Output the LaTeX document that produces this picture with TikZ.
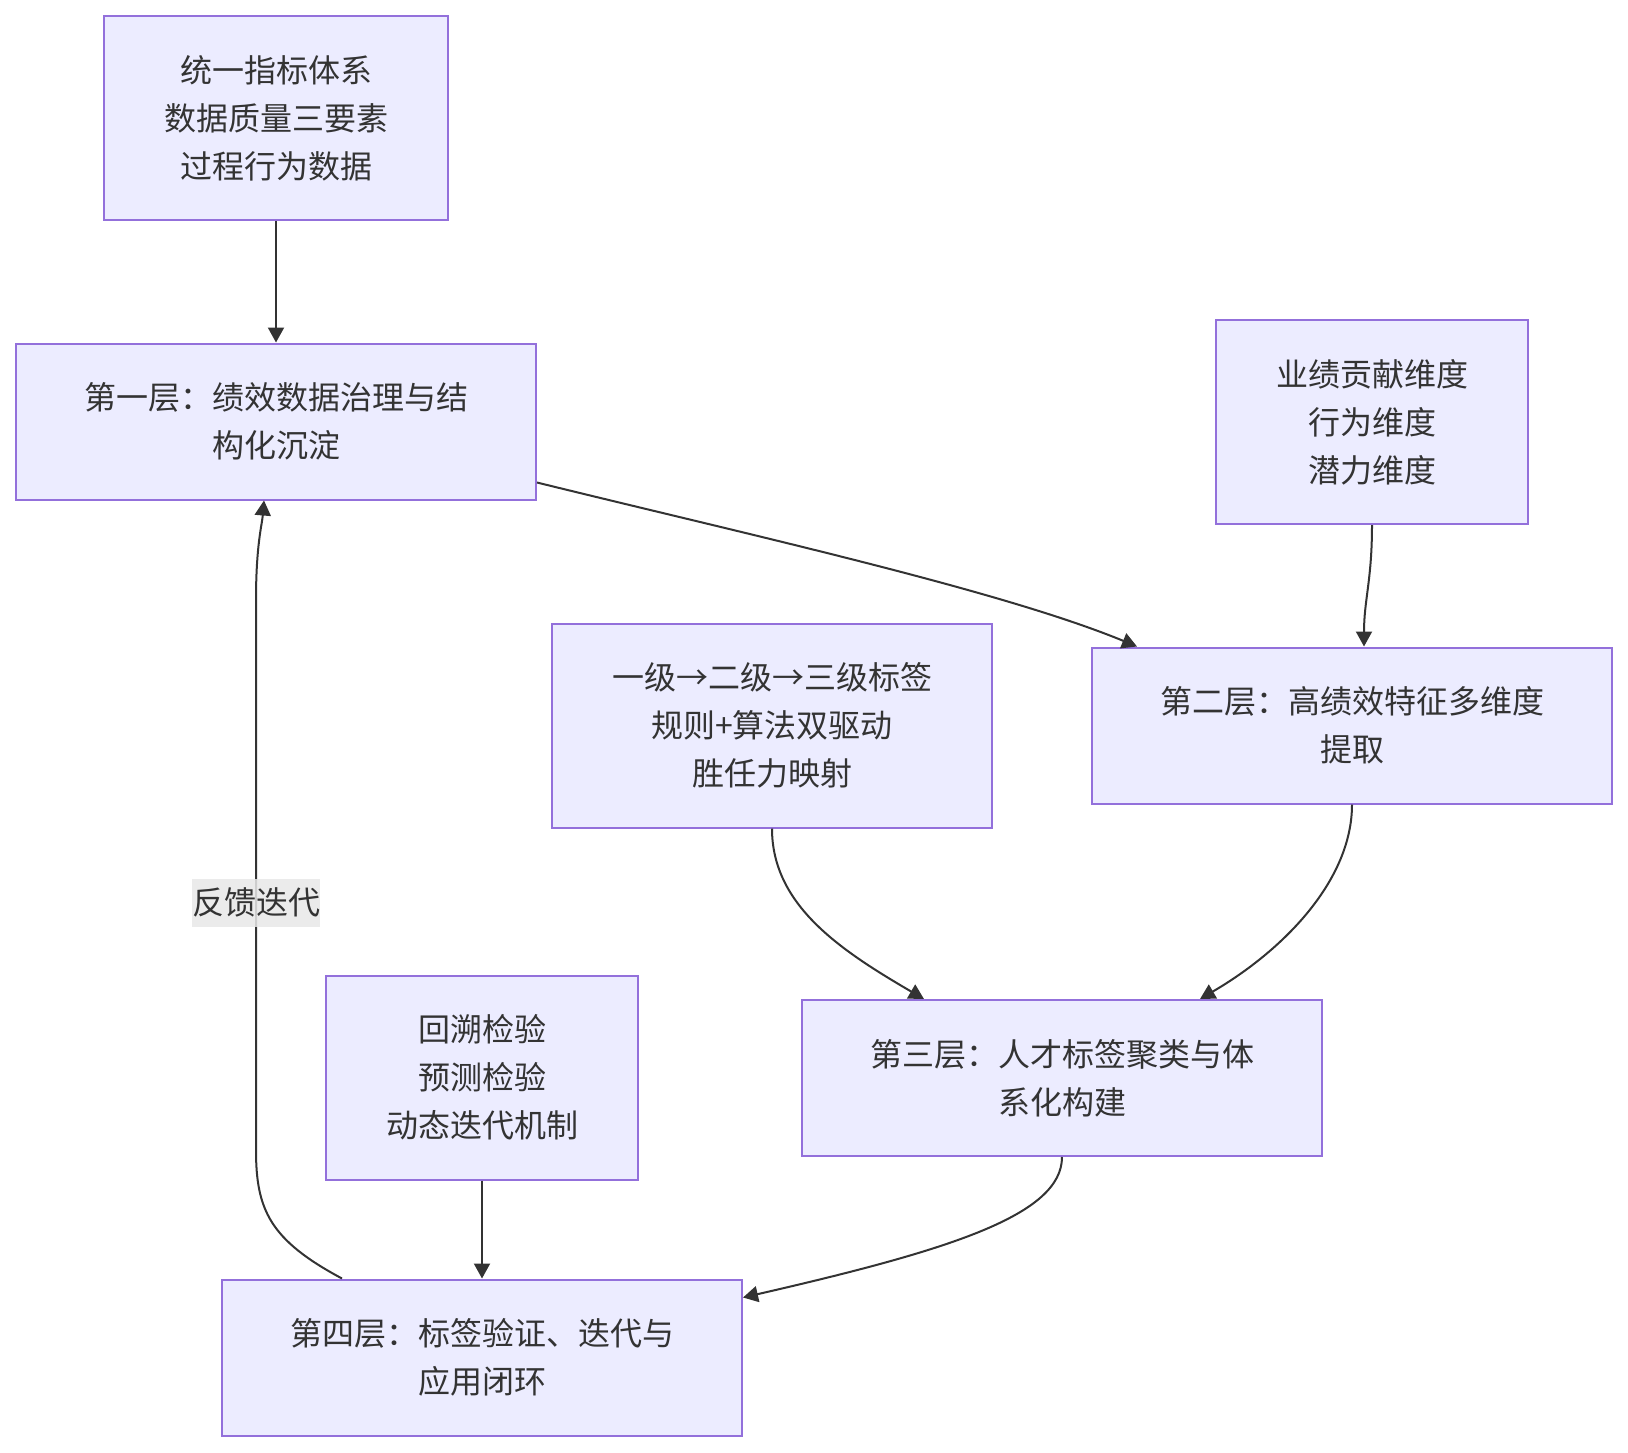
\documentclass[tikz,border=0pt]{standalone}
\usepackage{fontspec}
\setmainfont{Noto Sans CJK SC}
\usepackage{xcolor}
\usepackage{tikz}
\usetikzlibrary{arrows.meta, positioning, calc}

\definecolor{boxfill}{HTML}{ECECFF}
\definecolor{boxline}{HTML}{9370DB}
\definecolor{linkc}{HTML}{333333}
\definecolor{txt}{HTML}{333333}
\definecolor{lblfill}{HTML}{E8E8E8}

\begin{document}
\begin{tikzpicture}[
      x=0.5pt, y=-0.5pt,
      >={Triangle[length=7.5pt, width=8pt]},
      every node/.style={font=\fontsize{16pt}{24pt}\selectfont, text=txt, align=center},
      box/.style={draw=boxline, fill=boxfill, line width=1pt, inner sep=0pt},
      layer/.style={box, minimum width=260pt, minimum height=78pt},
      src/.style={box, minimum height=102pt},
      link/.style={draw=linkc, line width=1pt, ->},
      lbl/.style={fill=lblfill, fill opacity=0.85, text opacity=1, inner xsep=0pt, minimum height=24pt}
    ]
      \useasboundingbox (0,0) rectangle (1628,1452);

      % the four layers
      \node[layer] (lay1) at (276,421.5) {第一层：绩效数据治理与结\\构化沉淀};
      \node[layer] (lay2) at (1352,725.5) {第二层：高绩效特征多维度\\提取};
      \node[layer] (lay3) at (1062,1078) {第三层：人才标签聚类与体\\系化构建};
      \node[layer] (lay4) at (482,1357.5) {第四层：标签验证、迭代与\\应用闭环};

      % inputs to each layer
      \node[src, minimum width=172pt] (src1) at (276,118) {统一指标体系\\数据质量三要素\\过程行为数据};
      \node[src, minimum width=156pt] (src2) at (1372,422) {业绩贡献维度\\行为维度\\潜力维度};
      \node[src, minimum width=220pt] (src3) at (772,725.5) {一级→二级→三级标签\\规则+算法双驱动\\胜任力映射};
      \node[src, minimum width=156pt] (src4) at (482,1077.5) {回溯检验\\预测检验\\动态迭代机制};

      \draw[link] (src1.south) -- (lay1.north);
      \draw[link] ($(lay1.south east)+(0,-18)$) .. controls (750,535) and (1000,590) .. ($(lay2.north west)+(46,0)$);
      \draw[link] (src2.south) .. controls (1372,580) and (1364,600) .. ($(lay2.north)+(12,0)$);
      \draw[link] (src3.south) .. controls (772,905) and (840,950) .. ($(lay3.north)+(-138,0)$);
      \draw[link] (lay2.south) .. controls (1352,880) and (1284,950) .. ($(lay3.north)+(138,0)$);
      \draw[link] (lay3.south) .. controls (1062,1215) and (950,1250) .. ($(lay4.north east)+(0,19)$);
      \draw[link] (src4.south) -- (lay4.north);

      % feedback loop
      \draw[link] ($(lay4.north west)+(121,0)$) .. controls (270,1240) and (256,1210) .. (256,1150)
        -- node[lbl, pos=0.45] (fb) {反馈迭代} (256,600)
        .. controls (256,545) and (262,525) .. ($(lay1.south)+(-12,0)$);
    \end{tikzpicture}
\end{document}
